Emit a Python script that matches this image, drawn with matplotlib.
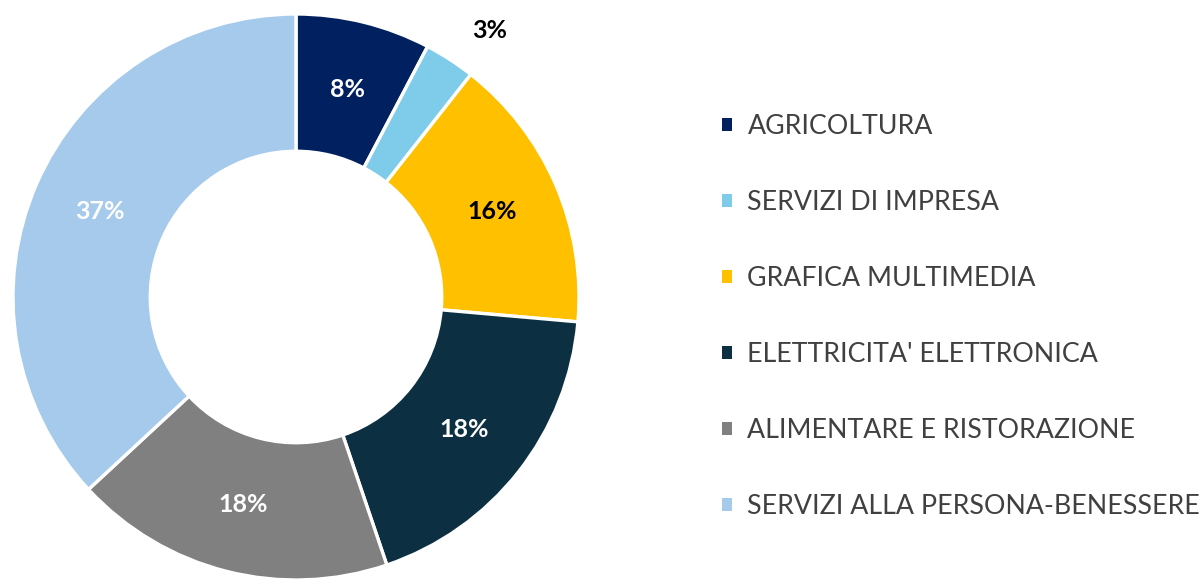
import numpy as np
import matplotlib
matplotlib.use('Agg')
import matplotlib.pyplot as plt
from matplotlib.patches import Patch

# Sector shares (%)
categories = ['AGRICOLTURA', 'SERVIZI DI IMPRESA', 'GRAFICA MULTIMEDIA',
              "ELETTRICITA' ELETTRONICA", 'ALIMENTARE E RISTORAZIONE',
              'SERVIZI ALLA PERSONA-BENESSERE']
values = [7.7, 2.9, 15.8, 18.4, 18.3, 36.9]
colors = ['#002060', '#7FCBEA', '#FFC000', '#0C3042', '#808080', '#A6CAEC']
label_colors = ['white', 'black', 'black', 'white', 'white', 'white']

plt.rcParams['font.family'] = ['Lato', 'DejaVu Sans']

fig = plt.figure(figsize=(12.01, 5.80), dpi=100)
# donut axes: centre at (296, 297) px, outer radius 283 px
ax = fig.add_axes([13 / 1201, 0 / 580, 566 / 1201, 566 / 580])

wedges, _ = ax.pie(values, colors=colors, startangle=90, counterclock=False,
                   radius=1.0, wedgeprops=dict(width=0.485, edgecolor='white', linewidth=2.4))
ax.set_xlim(-1, 1)
ax.set_ylim(-1, 1)
ax.set_aspect('equal')
ax.axis('off')

for w, v, c in zip(wedges, values, label_colors):
    mid = (w.theta1 + w.theta2) / 2
    if v < 5:
        # small slice: label sits outside the ring
        ang, r = np.deg2rad(mid - 3), 1.165
    else:
        ang, r = np.deg2rad(mid), 0.757
    ax.text(r * np.cos(ang), r * np.sin(ang), f'{v:.0f}%', ha='center', va='center',
            fontsize=18, fontweight='bold', color=c, clip_on=False)

handles = [Patch(facecolor=c, edgecolor='none') for c in colors]
fig.legend(handles, categories, loc='center left', bbox_to_anchor=(722 / 1201, 1 - 316.5 / 580),
           frameon=False, fontsize=19.3, labelcolor='#404040', handlelength=0.39,
           handleheight=0.39, handletextpad=0.56, labelspacing=1.9, borderpad=0,
           borderaxespad=0)

fig.savefig('out.png', dpi=100)
